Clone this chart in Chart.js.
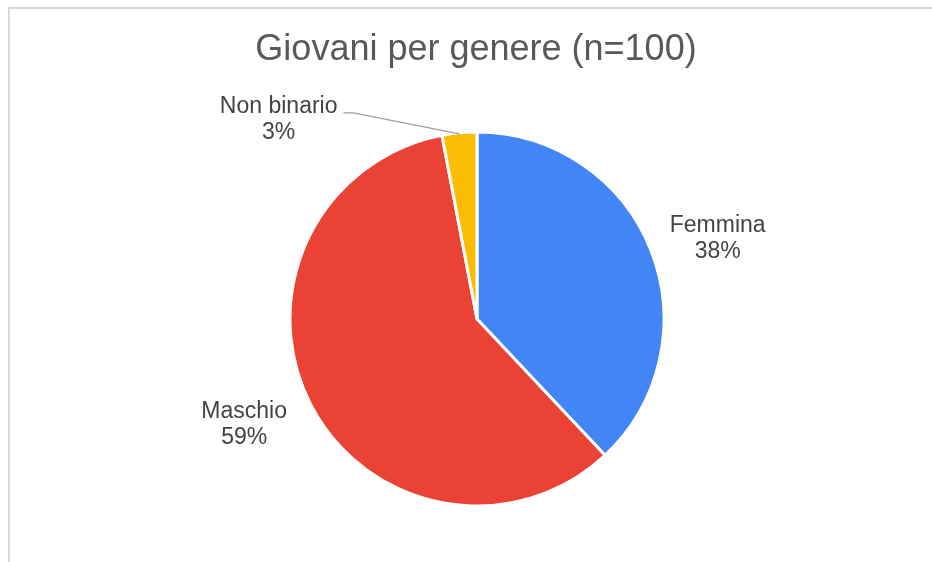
<!DOCTYPE html>
<html>
<head>
<meta charset="utf-8">
<script src="https://cdn.jsdelivr.net/npm/chart.js@4/dist/chart.umd.min.js"></script>
<style>
  html, body { margin: 0; padding: 0; background: #fff; }
  #wrap { width: 932px; height: 562px; position: relative; }
</style>
</head>
<body>
<div id="wrap"><canvas id="torta" width="932" height="562"></canvas></div>
<script>
// dati del grafico
const titolo = 'Giovani per genere (n=100)';
const categorie = ['Femmina', 'Maschio', 'Non binario'];
const valori = [38, 59, 3];
const colori = ['#4285F4', '#EA4335', '#FBBC04'];

const FONT = '"Liberation Sans", Arial, sans-serif';

// cornice, titolo ed etichette esterne con linea guida per le fette piccole
const etichettePlugin = {
    id: 'etichette',
    beforeDraw(chart) {
        const c = chart.ctx;
        c.save();
        c.fillStyle = '#d9d9d9';
        c.fillRect(8, 7, 932, 2);
        c.fillRect(8, 7, 2, 562);
        c.restore();
    },
    afterDraw(chart) {
        const c = chart.ctx;
        const meta = chart.getDatasetMeta(0);
        const totale = valori.reduce((a, b) => a + b, 0);

        c.save();
        c.fillStyle = '#595959';
        c.font = '36px ' + FONT;
        c.textAlign = 'center';
        c.textBaseline = 'alphabetic';
        c.fillText(titolo, 476, 60);

        c.font = '23px ' + FONT;
        c.textBaseline = 'middle';
        const riga = 26;

        meta.data.forEach((arc, i) => {
            const { x, y, startAngle, endAngle, outerRadius } = arc.getProps(['x', 'y', 'startAngle', 'endAngle', 'outerRadius'], true);
            const mid = (startAngle + endAngle) / 2;
            const righe = [categorie[i], Math.round(valori[i] / totale * 100) + '%'];
            const larg = Math.max(...righe.map(t => c.measureText(t).width));

            let bx, cy;
            if (valori[i] / totale < 0.05) {
                // linea guida verso sinistra
                const px = x + Math.cos(mid) * (outerRadius - 1);
                const py = y + Math.sin(mid) * (outerRadius - 1);
                const gx = px - 106, gy = py - 21;
                c.strokeStyle = '#9e9e9e';
                c.lineWidth = 1.2;
                c.beginPath();
                c.moveTo(px, py);
                c.lineTo(gx, gy);
                c.lineTo(gx - 10, gy);
                c.stroke();
                bx = gx - 16 - larg / 2;
                cy = gy + 7;
            } else {
                // ancoraggio un po' prima della bisettrice, fuori dal bordo
                const a = mid - 1.6 * Math.PI / 180;
                const ax = x - 3 + Math.cos(a) * (outerRadius + 26);
                const ay = y + 4 + Math.sin(a) * (outerRadius + 26);
                bx = Math.cos(a) >= 0 ? ax + larg / 2 : ax - larg / 2;
                cy = ay;
            }
            c.fillStyle = '#434343';
            c.textAlign = 'center';
            righe.forEach((t, k) => {
                c.fillText(t, bx, cy + (k - (righe.length - 1) / 2) * riga);
            });
        });
        c.restore();
    }
};

const ctx = document.getElementById('torta').getContext('2d');
new Chart(ctx, {
    type: 'pie',
    data: {
        labels: categorie,
        datasets: [{
            data: valori,
            backgroundColor: colori,
            borderColor: '#ffffff',
            borderWidth: 3
        }]
    },
    options: {
        responsive: false,
        animation: false,
        radius: 187,
        layout: { padding: { left: 291, right: 269, top: 133, bottom: 57 } },
        plugins: {
            legend: { display: false },
            tooltip: { enabled: false }
        }
    },
    plugins: [etichettePlugin]
});
</script>
</body>
</html>
